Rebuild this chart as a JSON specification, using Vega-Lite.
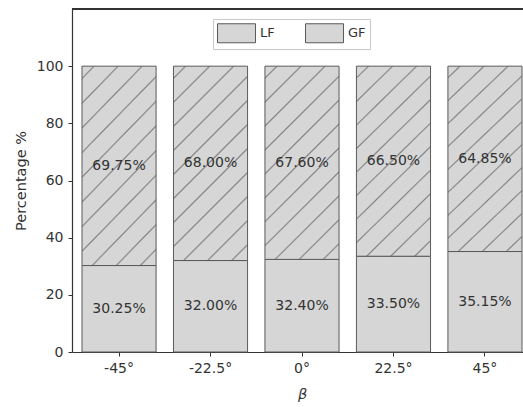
{
  "$schema": "https://vega.github.io/schema/vega-lite/v6.json",
  "width": 451,
  "height": 343,
  "autosize": "none",
  "padding": {"left": 72, "top": 9, "right": 0, "bottom": 55},
  "background": "white",
  "config": {
    "view": {"stroke": null},
    "font": "DejaVu Sans",
    "axis": {
      "domainColor": "#333333",
      "domainWidth": 1.2,
      "tickColor": "#333333",
      "tickSize": 4,
      "labelColor": "#333333",
      "labelFont": "DejaVu Sans",
      "labelFontSize": 14,
      "titleFont": "DejaVu Sans",
      "titleColor": "#333333",
      "titleFontSize": 14.5,
      "titleFontWeight": "normal",
      "grid": false
    }
  },
  "data": {
    "values": [
      {"beta": "-45°", "series": "LF", "pct": 30.25},
      {"beta": "-45°", "series": "GF", "pct": 69.75},
      {"beta": "-22.5°", "series": "LF", "pct": 32.00},
      {"beta": "-22.5°", "series": "GF", "pct": 68.00},
      {"beta": "0°", "series": "LF", "pct": 32.40},
      {"beta": "0°", "series": "GF", "pct": 67.60},
      {"beta": "22.5°", "series": "LF", "pct": 33.50},
      {"beta": "22.5°", "series": "GF", "pct": 66.50},
      {"beta": "45°", "series": "LF", "pct": 35.15},
      {"beta": "45°", "series": "GF", "pct": 64.85}
    ]
  },
  "layer": [
    {
      "mark": {"type": "bar", "strokeWidth": 1},
      "encoding": {
        "x": {
          "field": "beta",
          "type": "nominal",
          "sort": null,
          "scale": {"paddingInner": 0.19, "paddingOuter": 0.06, "align": 0.91},
          "axis": {
            "title": "β",
            "titleFontStyle": "italic",
            "titleX": 230,
            "titlePadding": 12,
            "labelAngle": 0,
            "labelPadding": 5
          }
        },
        "y": {
          "field": "pct",
          "type": "quantitative",
          "stack": "zero",
          "scale": {"domain": [0, 120], "nice": false},
          "axis": {
            "title": "Percentage %",
            "values": [0, 20, 40, 60, 80, 100],
            "labelPadding": 5,
            "titlePadding": 8
          }
        },
        "stroke": {
          "field": "series",
          "type": "nominal",
          "scale": {"domain": ["LF", "GF"], "range": ["#5a5a5a", "#5a5a5a"]},
          "legend": {
            "orient": "none",
            "legendX": 141,
            "legendY": 10,
            "direction": "horizontal",
            "title": null,
            "symbolType": "M-1,-1H3V1H-1Z",
            "symbolSize": 361,
            "symbolStrokeWidth": 1,
            "symbolOpacity": 1,
            "labelFont": "DejaVu Sans",
            "labelFontSize": 13,
            "labelColor": "#333333",
            "labelOffset": 23,
            "columnPadding": 28,
            "padding": 4,
            "strokeColor": "#c8c8c8",
            "encode": {
              "symbols": {
                "update": {
                  "strokeWidth": {"value": 1},
                  "fill": {"value": "#d6d6d6"},
                  "shape": {
                    "signal": "(datum.label === 'GF' || datum.value === 'GF') ? 'M-1,-1H3V1H-1Z M-0.6,1L1.4,-1 M1.9,1L3,-0.1' : 'M-1,-1H3V1H-1Z'"
                  }
                }
              }
            }
          }
        },
        "order": {"field": "series", "sort": "descending"},
        "fill": {
          "condition": {
            "test": "datum.series === 'GF'",
            "value": {
              "gradient": "linear",
              "x1": 0, "y1": 0, "x2": 0.46, "y2": 1.206,
              "stops": [
                {"offset": 0, "color": "#d6d6d6"},
                {"offset": 0.039, "color": "#d6d6d6"}, {"offset": 0.045, "color": "#828282"}, {"offset": 0.051, "color": "#d6d6d6"},
                {"offset": 0.1286, "color": "#d6d6d6"}, {"offset": 0.1346, "color": "#828282"}, {"offset": 0.1406, "color": "#d6d6d6"},
                {"offset": 0.2182, "color": "#d6d6d6"}, {"offset": 0.2242, "color": "#828282"}, {"offset": 0.2302, "color": "#d6d6d6"},
                {"offset": 0.3078, "color": "#d6d6d6"}, {"offset": 0.3138, "color": "#828282"}, {"offset": 0.3198, "color": "#d6d6d6"},
                {"offset": 0.3974, "color": "#d6d6d6"}, {"offset": 0.4034, "color": "#828282"}, {"offset": 0.4094, "color": "#d6d6d6"},
                {"offset": 0.487, "color": "#d6d6d6"}, {"offset": 0.493, "color": "#828282"}, {"offset": 0.499, "color": "#d6d6d6"},
                {"offset": 0.5766, "color": "#d6d6d6"}, {"offset": 0.5826, "color": "#828282"}, {"offset": 0.5886, "color": "#d6d6d6"},
                {"offset": 0.6662, "color": "#d6d6d6"}, {"offset": 0.6722, "color": "#828282"}, {"offset": 0.6782, "color": "#d6d6d6"},
                {"offset": 0.7558, "color": "#d6d6d6"}, {"offset": 0.7618, "color": "#828282"}, {"offset": 0.7678, "color": "#d6d6d6"},
                {"offset": 0.8454, "color": "#d6d6d6"}, {"offset": 0.8514, "color": "#828282"}, {"offset": 0.8574, "color": "#d6d6d6"},
                {"offset": 0.935, "color": "#d6d6d6"}, {"offset": 0.941, "color": "#828282"}, {"offset": 0.947, "color": "#d6d6d6"},
                {"offset": 1, "color": "#d6d6d6"}
              ]
            }
          },
          "value": "#d6d6d6"
        }
      }
    },
    {
      "transform": [
        {"calculate": "format(datum.pct, '.2f') + '%'", "as": "label"}
      ],
      "mark": {"type": "text", "fontSize": 14, "color": "#333333", "font": "DejaVu Sans"},
      "encoding": {
        "x": {"field": "beta", "type": "nominal", "sort": null},
        "y": {"field": "pct", "type": "quantitative", "stack": "zero", "bandPosition": 0.5},
        "detail": {"field": "series", "type": "nominal"},
        "order": {"field": "series", "sort": "descending"},
        "text": {"field": "label", "type": "nominal"}
      }
    },
    {
      "mark": {"type": "rule", "color": "#333333", "strokeWidth": 1.2},
      "encoding": {"y": {"datum": 120}}
    }
  ]
}
